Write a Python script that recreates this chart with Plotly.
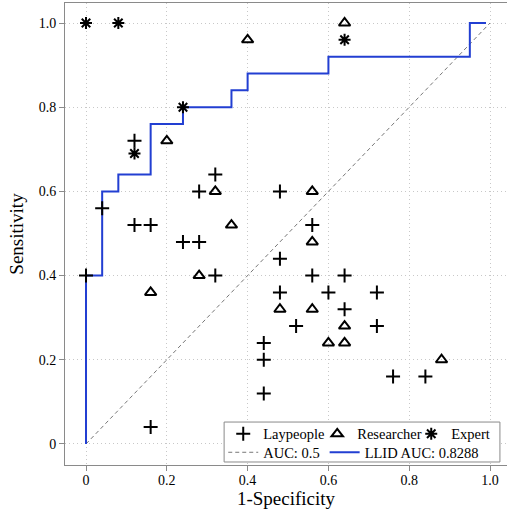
import plotly.graph_objects as go

# ---- data ----
lay_x = [0, 0.04, 0.12, 0.12, 0.16, 0.24, 0.28, 0.28, 0.32, 0.32, 0.16, 0.44, 0.44, 0.44,
         0.48, 0.56, 0.48, 0.56, 0.64, 0.48, 0.60, 0.72, 0.64, 0.52, 0.72, 0.76, 0.84]
lay_y = [0.40, 0.56, 0.72, 0.52, 0.52, 0.48, 0.48, 0.60, 0.64, 0.40, 0.04, 0.24, 0.20, 0.12,
         0.60, 0.52, 0.44, 0.40, 0.40, 0.36, 0.36, 0.36, 0.32, 0.28, 0.28, 0.16, 0.16]

res_x = [0.40, 0.20, 0.32, 0.64, 0.56, 0.36, 0.28, 0.16, 0.56, 0.48, 0.56, 0.64, 0.60, 0.64, 0.88]
res_y = [0.96, 0.72, 0.60, 1.00, 0.60, 0.52, 0.40, 0.36, 0.48, 0.32, 0.32, 0.28, 0.24, 0.24, 0.20]

exp_x = [0, 0.08, 0.12, 0.24, 0.64]
exp_y = [1.00, 1.00, 0.69, 0.80, 0.96]

chance_x = [0, 1]
chance_y = [0, 1]

llid_fpr = [0, 0, 0.04, 0.08, 0.16, 0.24, 0.36, 0.40, 0.60, 0.95, 0.99]
llid_tpr = [0, 0.40, 0.60, 0.64, 0.76, 0.80, 0.84, 0.88, 0.92, 1.00, 1.00]

tick_vals = [0, 0.2, 0.4, 0.6, 0.8, 1.0]
tick_text = ["0", "0.2", "0.4", "0.6", "0.8", "1.0"]

FONT = "Liberation Serif"
BLUE = "#223fd2"

fig = go.Figure()

fig.add_trace(go.Scatter(
    x=chance_x, y=chance_y, mode="lines", name="AUC: 0.5", legend="legend2",
    line=dict(color="#777777", width=1, dash="4px,3px")))
fig.add_trace(go.Scatter(
    x=llid_fpr, y=llid_tpr, mode="lines", name="LLID AUC: 0.8288", legend="legend2",
    line=dict(color=BLUE, width=2, shape="hv")))

fig.add_trace(go.Scatter(
    x=lay_x, y=lay_y, mode="markers", name="Laypeople",
    marker=dict(symbol="cross-thin", size=10, color="black",
                line=dict(color="black", width=2))))
fig.add_trace(go.Scatter(
    x=res_x, y=res_y, mode="markers", name="Researcher",
    marker=dict(symbol="triangle-up-open", size=10, color="black",
                line=dict(color="black", width=2))))
fig.add_trace(go.Scatter(
    x=exp_x, y=exp_y, mode="markers", name="Expert",
    marker=dict(symbol="asterisk-open", size=10, color="black",
                line=dict(color="black", width=2))))

axis_common = dict(
    tickvals=tick_vals, ticktext=tick_text,
    showgrid=True, gridcolor="#c8c8c8", griddash="1px,3px", gridwidth=1,
    zeroline=False, showline=True, linecolor="#8a8a8a", linewidth=1,
    ticks="outside", ticklen=5, tickcolor="#8a8a8a",
    tickfont=dict(family=FONT, size=14, color="black"),
)

fig.update_layout(
    width=507, height=511,
    margin=dict(l=65, r=0, t=3, b=46),
    paper_bgcolor="white", plot_bgcolor="white",
    font=dict(family=FONT, color="black"),
    xaxis=dict(range=[-0.052, 1.042], mirror=True, ticklabelstandoff=-3,
               title=dict(text="1-Specificity", font=dict(family=FONT, size=19), standoff=0),
               **axis_common),
    yaxis=dict(range=[-0.05, 1.0475], mirror=False,
               title=dict(text="Sensitivity", font=dict(family=FONT, size=19), standoff=10),
               **axis_common),
    legend=dict(orientation="h", x=0.358, y=0.102, xanchor="left", yanchor="top",
                bgcolor="rgba(0,0,0,0)", borderwidth=0, entrywidth=49,
                font=dict(family=FONT, size=14.5), tracegroupgap=0),
    legend2=dict(orientation="h", x=0.358, y=0.062, xanchor="left", yanchor="top",
                 bgcolor="rgba(0,0,0,0)", borderwidth=0,
                 font=dict(family=FONT, size=14.5), tracegroupgap=0),
    shapes=[dict(type="rect", xref="paper", yref="paper",
                 x0=0.36, x1=0.984, y0=0.0065, y1=0.093,
                 line=dict(color="#8a8a8a", width=1), fillcolor="white", layer="above")],
)

fig.write_html("out.html", config={"displayModeBar": False},
               post_script="document.body.style.margin='0';document.body.style.overflow='hidden';")
